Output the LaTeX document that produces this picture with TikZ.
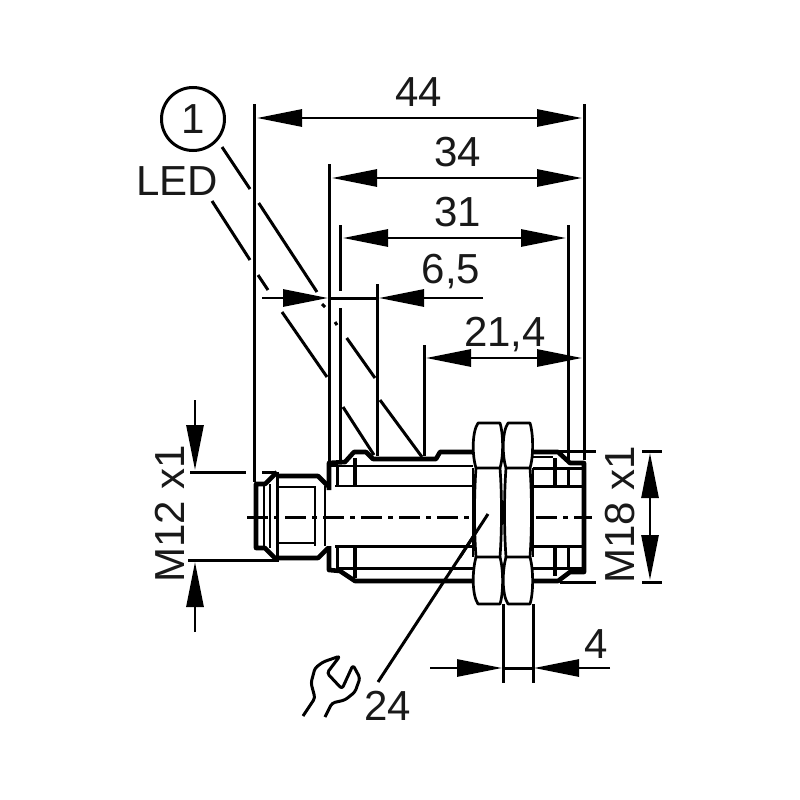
\documentclass[tikz,border=0pt]{standalone}
\usepackage{fontspec}
\setmainfont{Liberation Sans}
\usetikzlibrary{arrows.meta}
\tikzset{
  line/.style={line width=3pt,black},
  thin part/.style={line width=2.7pt,black},
  thick part/.style={line width=4.6pt,black,line join=round},
  dim/.style={line width=2.8pt,black,{Triangle[length=45pt,width=17pt]}-{Triangle[length=45pt,width=17pt]}},
  dimend/.style={line width=2.8pt,black,-{Triangle[length=45pt,width=17pt]}},
  axis/.style={line width=3pt,black,dash pattern=on 21pt off 6pt on 5pt off 6pt},
  lab/.style={font=\fontsize{42}{42}\selectfont,inner sep=0pt,text=black!90},
}
\begin{document}
\begin{tikzpicture}[x=1pt,y=-1pt]
\useasboundingbox (0,0) rectangle (800,800);
\fill[white] (0,0) rectangle (800,800);
% extension lines
\draw[line] (254,104)--(254,482);
\draw[line] (329,164)--(329,462);
\draw[line] (340,225)--(340,291) (340,308)--(340,462);
\draw[line] (377,284)--(377,456);
\draw[line] (424,345)--(424,456);
\draw[line] (568,225)--(568,460);
\draw[line] (584,104)--(584,460);
\draw[line] (190,472)--(246,472) (262,472)--(275,472);
\draw[line] (188,560)--(278,560);
\draw[line] (556,451)--(596,451) (560,582)--(596,582);
\draw[line] (642,451)--(662,451) (642,582)--(662,582);
\draw[line] (503,604)--(503,683) (533,604)--(533,683);
% dimension lines
\draw[dim] (257,118)--(582,118);
\draw[dim] (332,178)--(582,178);
\draw[dim] (343,238)--(566,238);
\draw[dimend] (262,298)--(328,298);
\draw[dimend] (483,298)--(379,298);
\draw[line] (328,298)--(379,298);
\draw[dim] (426,358)--(582,358);
\draw[dimend] (195,400)--(195,470);
\draw[dimend] (195,632)--(195,562);
\draw[dim] (650,453)--(650,580);
\draw[dimend] (430,668)--(502,668);
\draw[dimend] (610,668)--(534,668);
\draw[line] (502,668)--(534,668);
% leader lines
\draw[line] (222,147)--(250,189) (258.7,203)--(317,292);
\draw[line] (322,304)--(325,307) (335,322)--(337,325);
\draw[line] (346.7,338)--(375,378) (380,400)--(422,457);
\draw[line] (212,201)--(250,260) (258,275)--(268,290) (282,312)--(327,377);
\draw[line] (343,407)--(374,455);
\draw[line] (488,514)--(378,682);
% circle and labels
\node[draw,circle,line width=3pt,minimum size=63pt,inner sep=0pt,lab] (num) at (193,119) {1};
\node[lab] (led) at (177,181) {LED};
\node[lab] (d44) at (419,92) {44};
\node[lab] (d34) at (458,152) {34};
\node[lab] (d31) at (458,212) {31};
\node[lab] (d65) at (451,272) {6,5};
\node[lab] (d214) at (505,335) {21,4};
\node[lab] (d4) at (596,644) {4};
\node[lab] (d24) at (388,706) {24};
\node[lab,rotate=90] (m12) at (170,514) {M12 x1};
\node[lab,rotate=90] (m18) at (620,515) {M18 x1};
% centre line
\draw[axis] (247,517)--(473,517);
\draw[axis] (536,517)--(592,517);
% connector
\draw[thick part] (277,472)--(265,484)--(256,484)--(256,548)--(265,548)--(277,560);
\draw[thick part] (277,476)--(318,476)--(328,486);
\draw[thick part] (277,558)--(318,558)--(328,548);
\draw[thin part] (264,484)--(264,548) (270,484)--(270,548);
\draw[line] (277,472)--(277,562);
\draw[thin part] (315,486)--(315,546) (325,486)--(325,546);
\draw[thin part] (277,487)--(315,487) (277,543)--(315,543);
% body
\draw[thick part] (329,490)--(329,463)--(345,462)--(354,452)--(366,452)--(373,459)--(436,459)--(440,452)--(473,452);
\draw[thick part] (329,546)--(329,570)--(340,571)--(355,581)--(473,581);
\draw[thin part] (330,466)--(473,466) (335,486)--(473,486);
\draw[line] (335,546)--(473,546);
\draw[line] (336,568)--(473,568);
\draw[line] (337,466)--(337,486) (337,546)--(337,568);
\draw[thick part] (355,458)--(355,486) (355,546)--(355,578);
% right part
\draw[thick part] (533,452)--(558,452)--(570,463)--(584,463)--(584,572)--(570,572)--(558,581)--(533,581);
\draw[thin part] (533,457)--(553,457);
\draw[line] (533,468)--(584,468) (533,486)--(584,486) (533,546)--(584,546) (533,568)--(584,568);
\draw[thick part] (555,458)--(555,486) (555,546)--(555,576);
\draw[line] (568,468)--(568,486) (568,546)--(568,570);
% nuts
\foreach \a/\b in {473/503,503/533}{
  \fill[white] (\a,423) rectangle (\b,604);
}
\foreach \a/\b in {473/503,503/533}{
  \draw[thin part,line join=round]
    (\a+5,423)--(\b-3,423) .. controls (\b,432) and (\b+1,455) .. (\b-3,468)
    -- (\a+3,468) .. controls (\a-1,455) and (\a-1,432) .. (\a+5,423) -- cycle;
  \draw[thin part,line join=round]
    (\a+5,604)--(\b-3,604) .. controls (\b,595) and (\b+1,572) .. (\b-3,557)
    -- (\a+3,557) .. controls (\a-1,572) and (\a-1,595) .. (\a+5,604) -- cycle;
  \draw[thin part]
    (\a+3,468) .. controls (\a+1,495) and (\a+1,530) .. (\a+3,557)
    (\b-3,468) .. controls (\b-1,495) and (\b-1,530) .. (\b-3,557);
}
\draw[thin part] (473,468)--(473,557) (533,468)--(533,557);
\draw[line] (488,514)--(460,557);
% wrench
\draw[line,line join=round,rounded corners=3pt] (303,716)--(315,698)--(311,683)--(315,668)--(323,662)--(340,656)--(327,673)--(342,689)--(353,665)--(360,678)--(355,692)--(345,700)--(332,703)--(325,717);
\end{tikzpicture}
\end{document}
